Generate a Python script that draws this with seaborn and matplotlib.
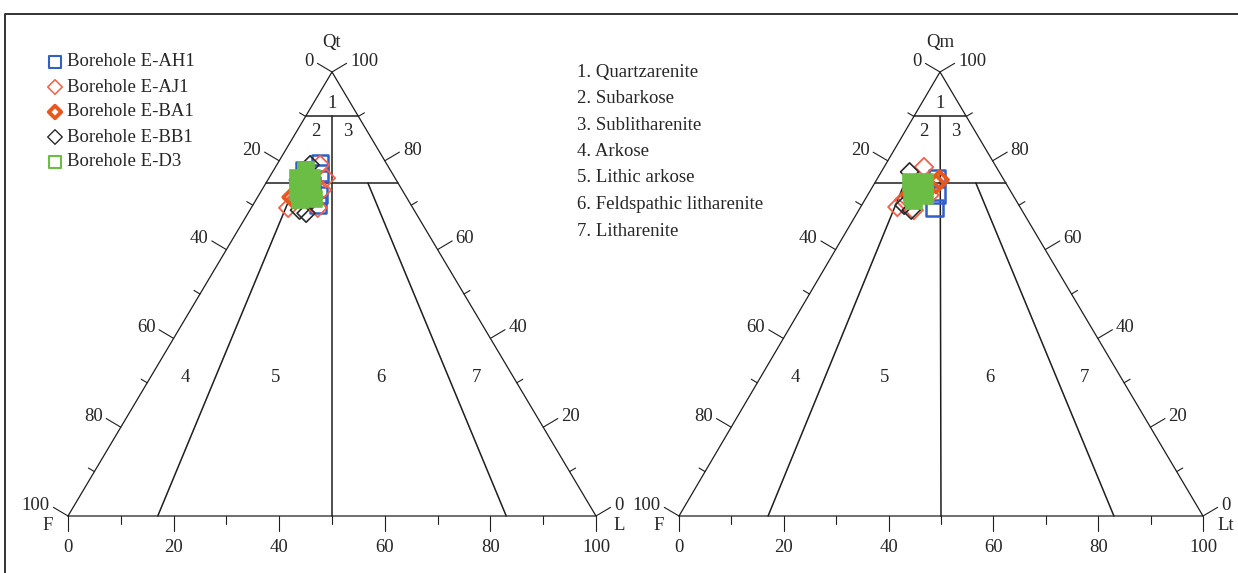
import numpy as np
import pandas as pd
import seaborn as sns
import matplotlib.pyplot as plt

# borehole names and plot styles
boreholes = ["Borehole E-AH1", "Borehole E-AJ1", "Borehole E-BA1", "Borehole E-BB1", "Borehole E-D3"]
colors = ["#2f5fc8", "#f0604a", "#e8581e", "#2a2a2a", "#6cbd45"]

# (Q, F, L) percentages
qtfl_ah1 = [(79.5, 12.5, 8.0), (77.3, 13.6, 9.1), (74.5, 16.6, 8.9), (72.3, 16.3, 11.4), (70.0, 17.7, 12.3), (77.9, 16.4, 5.7)]
qtfl_aj1 = [(76.1, 13.1, 10.8), (79.1, 12.7, 8.2), (69.4, 23.6, 7.0), (71.2, 21.4, 7.4), (69.4, 18.0, 12.6), (73.4, 15.2, 11.4), (77.5, 16.3, 6.2)]
qtfl_ba1 = [(71.8, 21.7, 6.5), (73.4, 19.4, 7.2)]
qtfl_bb1 = [(79.1, 14.6, 6.3), (68.9, 21.7, 9.4), (68.2, 20.8, 11.0), (75.7, 18.5, 5.8), (71.2, 18.2, 10.6)]
qtfl_d3 = [(76.1, 18.4, 5.5), (76.1, 15.8, 8.1), (73.0, 19.9, 7.1), (73.0, 17.3, 9.7), (74.5, 17.9, 7.6), (71.2, 20.5, 8.3), (71.4, 17.7, 10.9), (77.9, 16.0, 6.1)]

# (Q, F, L) percentages
qmflt_ah1 = [(76.1, 12.6, 11.3), (72.3, 14.4, 13.3), (69.4, 16.4, 14.2), (74.5, 15.9, 9.6)]
qmflt_aj1 = [(78.6, 13.8, 7.6), (69.6, 23.4, 7.0), (71.2, 21.3, 7.5), (72.3, 15.9, 11.8), (68.9, 20.6, 10.5)]
qmflt_ba1 = [(75.7, 12.3, 12.0), (74.8, 13.4, 11.8), (72.3, 19.7, 8.0)]
qmflt_bb1 = [(77.5, 17.1, 5.4), (68.9, 21.1, 10.0), (70.0, 21.9, 8.1), (73.4, 17.3, 9.3)]
qmflt_d3 = [(75.2, 17.9, 6.9), (75.2, 15.3, 9.5), (72.1, 19.4, 8.5), (72.1, 16.8, 11.1), (73.6, 17.4, 9.0), (70.9, 19.6, 9.5)]

classes = ["1. Quartzarenite", "2. Subarkose", "3. Sublitharenite", "4. Arkose",
           "5. Lithic arkose", "6. Feldspathic litharenite", "7. Litharenite"]

# field labels (Q, F, L)
field_pos = {"1": (93, 3.5, 3.5), "2": (86.7, 9.7, 3.6), "3": (86.7, 3.6, 9.7),
             "4": (31.1, 62.2, 6.7), "5": (31.1, 45.2, 23.7), "6": (31.1, 25.1, 43.8),
             "7": (31.1, 7.1, 61.8)}

# Folk boundaries (Q, F, L) pairs
boundaries = [((90, 10, 0), (90, 0, 10)),
              ((75, 25, 0), (75, 0, 25)),
              ((90, 5, 5), (0, 50, 50)),
              ((75, 19.3, 5.7), (0, 83, 17)),
              ((75, 5.7, 19.3), (0, 17, 83))]

# triangle corners in figure pixels
tri_qt = {"q": (332, 72), "f": (68, 516), "l": (596, 516)}
tri_qm = {"q": (940, 72), "f": (679, 516), "l": (1203, 516)}

FONT = 13.5
INK = "#1e1e1e"


def tern(tri, q, f, l):
    s = q + f + l
    x = (q * tri["q"][0] + f * tri["f"][0] + l * tri["l"][0]) / s
    y = (q * tri["q"][1] + f * tri["f"][1] + l * tri["l"][1]) / s
    return x, y


def draw_ticks(ax, p0, p1, centroid, side):
    p0, p1 = np.array(p0, float), np.array(p1, float)
    d = (p1 - p0) / np.linalg.norm(p1 - p0)
    n = np.array([-d[1], d[0]])
    if np.dot(n, (p0 + p1) / 2 - centroid) < 0:
        n = -n
    for v in range(0, 101, 10):
        p = p0 + (p1 - p0) * v / 100
        major = v % 20 == 0
        if side == "bottom":
            ln = 15 if major else 8
        else:
            ln = 17 if major else 7
        e = p + n * ln
        ax.plot([p[0], e[0]], [p[1], e[1]], color=INK, lw=0.8, zorder=2)
        if not major:
            continue
        if side == "bottom":
            ax.text(p[0], p[1] + 32, str(v), ha="center", va="center", fontsize=FONT)
        else:
            t = p + n * 21
            ax.text(t[0], t[1], str(v), ha="right" if side == "left" else "left",
                    va="center", fontsize=FONT)


def draw_triangle(ax, tri, qname, lname):
    q, f, l = (np.array(tri[k], float) for k in ("q", "f", "l"))
    c = (q + f + l) / 3
    ax.plot([f[0], l[0], q[0], f[0]], [f[1], l[1], q[1], f[1]], color=INK, lw=0.9, zorder=2)
    # left edge: 0 at apex -> 100 at F; right edge: 0 at L -> 100 at apex; base: 0 at F -> 100 at L
    draw_ticks(ax, q, f, c, "left")
    draw_ticks(ax, l, q, c, "right")
    draw_ticks(ax, f, l, c, "bottom")
    for a, b in boundaries:
        xa, ya = tern(tri, *a)
        xb, yb = tern(tri, *b)
        ax.plot([xa, xb], [ya, yb], color=INK, lw=1.1, zorder=2)
    for k, pos in field_pos.items():
        x, y = tern(tri, *pos)
        ax.text(x, y, k, ha="center", va="center", fontsize=FONT)
    ax.text(q[0], q[1] - 30, qname, ha="center", va="center", fontsize=FONT)
    ax.text(f[0] - 20, f[1] + 10, "F", ha="center", va="center", fontsize=FONT)
    ax.text(l[0] + 23, l[1] + 10, lname, ha="center", va="center", fontsize=FONT)


def frame(tri, groups):
    rows = []
    for name, pts in zip(boreholes, groups):
        for q, f, l in pts:
            x, y = tern(tri, q, f, l)
            rows.append({"borehole": name, "Q": q, "F": f, "L": l, "x": x, "y": y})
    return pd.DataFrame(rows)


def draw_points(ax, df):
    styles = {
        "Borehole E-AH1": dict(marker="s", s=135, facecolor="none", lw=1.8),
        "Borehole E-AJ1": dict(marker="D", s=88, facecolor="none", lw=1.3),
        "Borehole E-BA1": dict(marker="D", s=75, facecolor="none", lw=2.8),
        "Borehole E-BB1": dict(marker="D", s=85, facecolor="none", lw=1.2),
        "Borehole E-D3": dict(marker="s", s=130, facecolor="#6cbd45", lw=1.2),
    }
    for name, col in zip(boreholes, colors):
        sub = df[df["borehole"] == name]
        st = styles[name]
        sns.scatterplot(data=sub, x="x", y="y", ax=ax, marker=st["marker"], s=st["s"],
                        facecolor=st["facecolor"], edgecolor=col, linewidth=st["lw"],
                        legend=False, zorder=4)


def main():
    sns.set_style("white")
    plt.rcParams["font.family"] = ["Liberation Serif", "DejaVu Serif"]

    fig = plt.figure(figsize=(12.38, 5.73), dpi=100)
    ax = fig.add_axes([0, 0, 1, 1])
    ax.set_xlim(0, 1238)
    ax.set_ylim(573, 0)
    ax.axis("off")

    # outer frame (only top and left edges visible)
    ax.plot([5, 5, 1238], [573, 14, 14], color="#333333", lw=1.4)

    draw_triangle(ax, tri_qt, "Qt", "L")
    draw_triangle(ax, tri_qm, "Qm", "Lt")

    draw_points(ax, frame(tri_qt, [qtfl_ah1, qtfl_aj1, qtfl_ba1, qtfl_bb1, qtfl_d3]))
    draw_points(ax, frame(tri_qm, [qmflt_ah1, qmflt_aj1, qmflt_ba1, qmflt_bb1, qmflt_d3]))

    # legend
    leg_marks = [dict(marker="s", s=75, lw=1.5), dict(marker="D", s=55, lw=1.1),
                 dict(marker="D", s=40, lw=2.8), dict(marker="D", s=55, lw=1.0),
                 dict(marker="s", s=75, lw=1.5)]
    for i, (name, col, mk) in enumerate(zip(boreholes, colors, leg_marks)):
        y = 62 + 25 * i
        ax.scatter([55], [y], marker=mk["marker"], s=mk["s"], facecolor="none",
                   edgecolor=col, linewidth=mk["lw"], zorder=5)
        ax.text(67, y, name, ha="left", va="center", fontsize=FONT)

    for i, c in enumerate(classes):
        ax.text(577, 72 + 26.5 * i, c, ha="left", va="center", fontsize=FONT)

    ax.set_xlabel("")
    ax.set_ylabel("")
    fig.savefig("out.png", dpi=100)


if __name__ == "__main__":
    main()
